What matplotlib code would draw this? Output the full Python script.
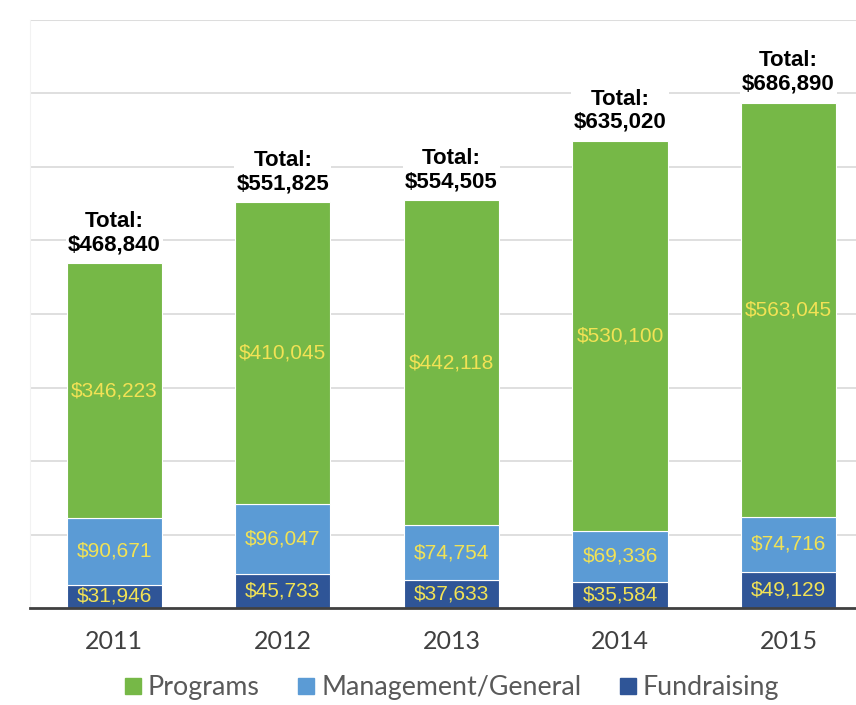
import matplotlib
matplotlib.use("Agg")
import matplotlib.pyplot as plt
from matplotlib.lines import Line2D
import numpy as np

# values
years = ["2011", "2012", "2013", "2014", "2015"]
fundraising = [31946, 45733, 37633, 35584, 49129]
management = [90671, 96047, 74754, 69336, 74716]
programs = [346223, 410045, 442118, 530100, 563045]
series_names = ["Programs", "Management/General", "Fundraising"]

c_prog = "#76B847"
c_mgmt = "#5B9BD5"
c_fund = "#2F5597"
c_lab = "#F2E255"

fig = plt.figure(figsize=(8.56, 7.05), dpi=100)
ax = fig.add_axes([30 / 856, 1 - 608 / 705, 1 - 30 / 856, (608 - 20) / 705])

x = np.arange(len(years))
fund = np.array(fundraising)
mgmt = np.array(management)
prog = np.array(programs)
totals = fund + mgmt + prog
w = 0.565

ax.bar(x, fund, w, color=c_fund, edgecolor="white", linewidth=0.8, zorder=3)
ax.bar(x, mgmt, w, bottom=fund, color=c_mgmt, edgecolor="white", linewidth=0.8, zorder=3)
ax.bar(x, prog, w, bottom=fund + mgmt, color=c_prog, edgecolor="white", linewidth=0.8, zorder=3)

lab_font = dict(family="Liberation Sans", fontsize=15, color=c_lab, ha="center", va="center", zorder=4)
for i in range(len(years)):
    ax.text(x[i], fund[i] / 2, "${:,}".format(fund[i]), **lab_font)
    ax.text(x[i], fund[i] + mgmt[i] / 2, "${:,}".format(mgmt[i]), **lab_font)
    ax.text(x[i], fund[i] + mgmt[i] + prog[i] / 2, "${:,}".format(prog[i]), **lab_font)
    ax.annotate("Total:\n${:,}".format(totals[i]), (x[i], totals[i]), xytext=(0, 6),
                textcoords="offset points", ha="center", va="bottom",
                family="Liberation Sans", fontsize=16, fontweight="bold", color="black",
                linespacing=1.15, zorder=5,
                bbox=dict(boxstyle="square,pad=0.1", fc="white", ec="none"))

ax.set_xlim(-0.5, 4.4)
ax.set_ylim(0, 800000)
ax.set_yticks(np.arange(100000, 800001, 100000))
ax.yaxis.grid(True, color="#D9D9D9", linewidth=1.2, zorder=0)
ax.axhline(800000, color="#F2F2F2", linewidth=1.5, zorder=0)
ax.tick_params(axis="y", left=False, labelleft=False)
ax.tick_params(axis="x", length=0, pad=16, labelsize=18, labelcolor="#404040")
ax.set_xticks(x)
ax.set_xticklabels(years, family="Lato")
for s in ["top", "right"]:
    ax.spines[s].set_visible(False)
ax.spines["left"].set_color("#F2F2F2")
ax.spines["bottom"].set_color("#404040")
ax.spines["bottom"].set_linewidth(2)
ax.spines["bottom"].set_zorder(6)

handles = [Line2D([], [], marker="s", linestyle="none", markersize=11, color=c)
           for c in [c_prog, c_mgmt, c_fund]]
fig.legend(handles, series_names, loc="center", bbox_to_anchor=(452 / 856, 1 - 688 / 705),
           ncol=3, frameon=False, handlelength=0.6, handletextpad=0.25, columnspacing=1.45,
           prop=dict(family="Lato", size=19.3), labelcolor="#595959")

fig.savefig("out.png", dpi=100)
